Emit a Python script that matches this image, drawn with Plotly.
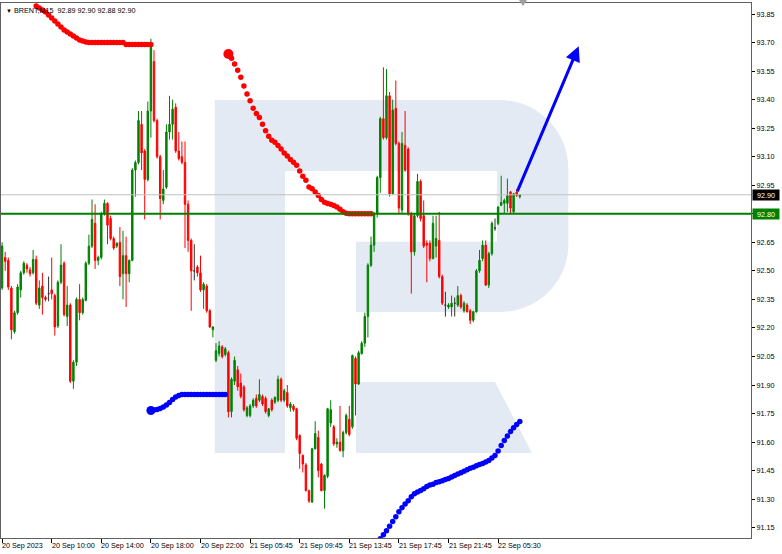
import plotly.graph_objects as go
import numpy as np

# ---------------- data ----------------
symbol = "BRENT,M15"
tick_idx = [0, 16, 32, 48, 64, 80, 96, 112, 128, 144, 160]
tick_labels = ["20 Sep 2023", "20 Sep 10:00", "20 Sep 14:00", "20 Sep 18:00", "20 Sep 22:00",
               "21 Sep 05:45", "21 Sep 09:45", "21 Sep 13:45", "21 Sep 17:45", "21 Sep 21:45",
               "22 Sep 05:30"]

opens = [92.41, 92.57, 92.555, 92.41, 92.18, 92.28, 92.40, 92.49, 92.53, 92.505,
         92.49, 92.56, 92.32, 92.42, 92.36, 92.38, 92.40, 92.37, 92.21, 92.44,
         92.54, 92.26, 92.32, 91.92, 92.02, 92.35, 92.28, 92.345, 92.54, 92.63,
         92.75, 92.555, 92.57, 92.80, 92.855, 92.775, 92.67, 92.63, 92.65, 92.485,
         92.58, 92.485, 92.555, 93.03, 93.07, 93.27, 93.13, 92.98, 93.34, 93.60,
         93.29, 93.10, 92.87, 92.94, 93.23, 93.27, 93.36, 93.13, 93.10, 93.07,
         92.85, 92.66, 92.50, 92.52, 92.49, 92.40, 92.42, 92.29, 92.19, 92.03,
         92.065, 92.10, 92.06, 92.07, 91.76, 91.92, 91.98, 91.91, 91.89, 91.74,
         91.74, 91.79, 91.83, 91.82, 91.84, 91.83, 91.74, 91.82, 91.81, 91.82,
         91.93, 91.82, 91.86, 91.78, 91.79, 91.775, 91.635, 91.53, 91.48, 91.345,
         91.285, 91.565, 91.625, 91.485, 91.345, 91.42, 91.70, 91.68, 91.59, 91.60,
         91.555, 91.65, 91.72, 91.68, 92.04, 91.905, 92.065, 92.12, 92.26, 92.53,
         92.635, 92.80, 92.99, 93.30, 93.20, 93.42, 92.905, 93.354, 93.17, 92.82,
         93.16, 93.14, 92.80, 92.60, 92.79, 92.97, 92.79, 92.645, 92.645, 92.565,
         92.63, 92.66, 92.47, 92.32, 92.31, 92.31, 92.33, 92.32, 92.37, 92.29,
         92.32, 92.29, 92.24, 92.285, 92.50, 92.565, 92.635, 92.425, 92.59, 92.725,
         92.75, 92.845, 92.855, 92.855, 92.915, 92.81, 92.915, 92.89]
highs = [92.65, 92.60, 92.57, 92.42, 92.29, 92.43, 92.50, 92.55, 92.54, 92.52,
         92.61, 92.58, 92.45, 92.49, 92.37, 92.47, 92.57, 92.38, 92.45, 92.64,
         92.55, 92.42, 92.33, 92.03, 92.36, 92.43, 92.36, 92.55, 92.69, 92.875,
         92.85, 92.58, 92.81, 92.875, 92.86, 92.79, 92.68, 92.65, 92.73, 92.71,
         92.68, 92.56, 93.04, 93.08, 93.34, 93.34, 93.14, 93.39, 93.72, 93.66,
         93.30, 93.11, 93.03, 93.27, 93.42, 93.40, 93.38, 93.23, 93.18, 93.18,
         92.87, 92.67, 92.64, 92.53, 92.58, 92.44, 92.43, 92.30, 92.21, 92.12,
         92.13, 92.11, 92.10, 92.08, 91.94, 92.05, 92.00, 91.96, 91.90, 91.79,
         91.80, 91.83, 91.85, 91.93, 91.85, 91.84, 91.78, 91.83, 91.84, 91.95,
         91.94, 91.88, 91.90, 91.81, 91.80, 91.78, 91.64, 91.535, 91.49, 91.35,
         91.57, 91.71, 91.66, 91.49, 91.43, 91.78, 91.82, 91.69, 91.62, 91.79,
         91.66, 91.75, 91.79, 92.06, 92.05, 92.08, 92.13, 92.28, 92.54, 92.68,
         92.81, 93.00, 93.31, 93.57, 93.56, 93.44, 93.40, 93.50, 93.18, 93.23,
         93.34, 93.15, 92.81, 92.80, 93.01, 92.98, 92.87, 92.66, 92.66, 92.79,
         92.79, 92.81, 92.48, 92.39, 92.33, 92.37, 92.36, 92.42, 92.38, 92.34,
         92.33, 92.30, 92.29, 92.51, 92.61, 92.66, 92.66, 92.60, 92.76, 92.775,
         92.84, 93.00, 92.88, 92.985, 92.92, 92.91, 92.93, 92.90]
lows = [92.40, 92.50, 92.40, 92.14, 92.17, 92.27, 92.36, 92.48, 92.49, 92.47,
        92.48, 92.32, 92.30, 92.27, 92.34, 92.34, 92.35, 92.16, 92.20, 92.43,
        92.26, 92.21, 91.91, 91.88, 92.00, 92.24, 92.27, 92.34, 92.53, 92.62,
        92.51, 92.53, 92.56, 92.79, 92.64, 92.66, 92.61, 92.62, 92.42, 92.35,
        92.31, 92.44, 92.55, 92.89, 93.06, 93.03, 92.77, 92.97, 93.20, 93.28,
        93.09, 92.77, 92.85, 92.93, 93.19, 93.19, 93.12, 93.08, 93.06, 92.62,
        92.60, 92.29, 92.45, 92.47, 92.39, 92.30, 92.28, 92.20, 92.15, 92.02,
        92.05, 92.04, 92.05, 91.73, 91.73, 91.90, 91.87, 91.83, 91.76, 91.73,
        91.73, 91.78, 91.78, 91.81, 91.79, 91.75, 91.73, 91.76, 91.80, 91.81,
        91.81, 91.81, 91.78, 91.76, 91.76, 91.61, 91.46, 91.44, 91.34, 91.28,
        91.28, 91.56, 91.415, 91.34, 91.25, 91.41, 91.68, 91.58, 91.57, 91.55,
        91.52, 91.64, 91.63, 91.67, 91.74, 91.90, 92.06, 92.10, 92.15, 92.52,
        92.60, 92.78, 92.91, 93.19, 93.19, 92.89, 92.90, 93.16, 92.80, 92.80,
        93.02, 92.79, 92.38, 92.58, 92.78, 92.76, 92.62, 92.44, 92.55, 92.56,
        92.57, 92.46, 92.32, 92.26, 92.30, 92.26, 92.26, 92.31, 92.30, 92.28,
        92.28, 92.22, 92.23, 92.28, 92.49, 92.55, 92.42, 92.41, 92.58, 92.71,
        92.74, 92.84, 92.80, 92.81, 92.80, 92.80, 92.89, 92.88]
closes = [92.63, 92.55, 92.415, 92.19, 92.28, 92.415, 92.49, 92.54, 92.51, 92.485,
          92.56, 92.33, 92.41, 92.36, 92.35, 92.38, 92.38, 92.205, 92.44, 92.53,
          92.27, 92.32, 91.92, 92.02, 92.35, 92.28, 92.35, 92.54, 92.63, 92.77,
          92.555, 92.57, 92.80, 92.855, 92.74, 92.67, 92.62, 92.645, 92.47, 92.58,
          92.485, 92.555, 93.03, 93.07, 93.29, 93.12, 92.98, 93.34, 93.69, 93.29,
          93.10, 92.88, 92.93, 93.23, 93.27, 93.35, 93.13, 93.09, 93.07, 92.85,
          92.66, 92.50, 92.50, 92.49, 92.40, 92.43, 92.29, 92.205, 92.205, 92.08,
          92.105, 92.05, 92.09, 91.76, 91.93, 92.03, 91.89, 91.84, 91.77, 91.78,
          91.79, 91.82, 91.79, 91.85, 91.80, 91.76, 91.775, 91.77, 91.835, 91.93,
          91.82, 91.87, 91.79, 91.80, 91.77, 91.62, 91.54, 91.485, 91.345, 91.29,
          91.565, 91.645, 91.45, 91.345, 91.425, 91.775, 91.77, 91.59, 91.60, 91.555,
          91.65, 91.74, 91.64, 92.055, 91.905, 92.07, 92.12, 92.26, 92.53, 92.635,
          92.80, 92.99, 93.30, 93.20, 93.42, 92.905, 93.345, 93.17, 92.83, 93.17,
          93.03, 92.80, 92.60, 92.79, 92.97, 92.775, 92.63, 92.635, 92.565, 92.75,
          92.67, 92.47, 92.33, 92.32, 92.32, 92.33, 92.33, 92.37, 92.31, 92.33,
          92.285, 92.24, 92.285, 92.50, 92.555, 92.635, 92.425, 92.59, 92.75, 92.725,
          92.835, 92.86, 92.87, 92.895, 92.83, 92.905, 92.895, 92.90]

price_ticks = [91.15, 91.30, 91.45, 91.60, 91.75, 91.90, 92.05, 92.20, 92.35,
               92.50, 92.65, 92.80, 92.95, 93.10, 93.25, 93.40, 93.55, 93.70, 93.85]
bid_price = 92.90
level_price = 92.80

red1_start = 11
red1 = [93.892, 93.882, 93.871, 93.861, 93.845, 93.829, 93.813, 93.797, 93.782, 93.766,
        93.755, 93.745, 93.734, 93.724, 93.713, 93.708, 93.703,
        93.70, 93.70, 93.70, 93.70, 93.70, 93.70, 93.70, 93.70, 93.70, 93.70, 93.70, 93.70,
        93.69, 93.69, 93.69, 93.69, 93.69, 93.69, 93.69, 93.69, 93.69]
red2_start = 73
red2 = [93.64, 93.618, 93.587, 93.555, 93.517, 93.471, 93.429, 93.394, 93.355, 93.327,
        93.306, 93.271, 93.236, 93.208, 93.187, 93.176, 93.159, 93.141, 93.120, 93.103,
        93.085, 93.071, 93.055, 93.025, 92.997, 92.976, 92.941, 92.931, 92.915, 92.896,
        92.875, 92.861, 92.854, 92.850, 92.843, 92.836, 92.824, 92.811, 92.803,
        92.80, 92.80, 92.80, 92.80, 92.80, 92.80, 92.80, 92.80]
blue1_start = 48
blue1 = [91.766, 91.768, 91.771, 91.776, 91.784, 91.795, 91.808, 91.824, 91.837, 91.845,
         91.85, 91.85, 91.85, 91.85, 91.85, 91.85, 91.85, 91.85, 91.85, 91.85,
         91.85, 91.85, 91.85, 91.85, 91.85]
blue2_start = 122
blue2 = [91.092, 91.113, 91.134, 91.158, 91.182, 91.208, 91.234, 91.255, 91.274, 91.292,
         91.313, 91.329, 91.337, 91.345, 91.355, 91.366, 91.374, 91.379, 91.387, 91.392,
         91.397, 91.403, 91.408, 91.416, 91.424, 91.432, 91.439, 91.447, 91.455, 91.463,
         91.468, 91.476, 91.482, 91.487, 91.495, 91.503, 91.516, 91.529, 91.553, 91.582,
         91.608, 91.632, 91.655, 91.676, 91.692, 91.708]
arrow_from = (166, 92.91)
arrow_to = (186, 93.68)

# ---------------- geometry of the page ----------------
W, H = 782, 554
ML, MR, MT, MB = 1, 31, 3, 16
PW, PH = W - ML - MR, H - MT - MB
BAR_PX = 3.1
FIRST_BAR_PX = 2.1
x_range = [(ML - FIRST_BAR_PX) / BAR_PX, (ML + PW - FIRST_BAR_PX) / BAR_PX]
PX_PER_UNIT = 190.26
y_range = [93.85 - (MT + PH - 14) / PX_PER_UNIT, 93.85 - (MT - 14) / PX_PER_UNIT]


def P(px, py):
    return f"{(px - ML) / PW:.5f},{(MT + PH - py) / PH:.5f}"


# ---------------- figure ----------------
o = np.array(opens); h = np.array(highs); l = np.array(lows); c = np.array(closes)
idx = np.arange(len(o))
doji = np.isclose(o, c)
norm = ~doji

fig = go.Figure()
fig.add_trace(go.Candlestick(
    x=idx[norm], open=o[norm], high=h[norm], low=l[norm], close=c[norm],
    increasing=dict(line=dict(color="#008000", width=1), fillcolor="#008000"),
    decreasing=dict(line=dict(color="#ff0000", width=1), fillcolor="#ff0000"),
    whiskerwidth=0, hoverinfo="skip"))
fig.add_trace(go.Candlestick(
    x=idx[doji], open=o[doji], high=h[doji], low=l[doji], close=c[doji],
    increasing=dict(line=dict(color="#303030", width=1), fillcolor="#303030"),
    decreasing=dict(line=dict(color="#303030", width=1), fillcolor="#303030"),
    whiskerwidth=0, hoverinfo="skip"))


def dots(start, vals, color, size):
    fig.add_trace(go.Scatter(x=list(range(start, start + len(vals))), y=vals, mode="markers",
                             marker=dict(color=color, size=size, line=dict(width=0)),
                             hoverinfo="skip", cliponaxis=True))


dots(red1_start, red1, "#ff0000", 5.5)
dots(red2_start, red2, "#ff0000", 5.5)
dots(blue1_start, blue1, "#0000ff", 5.5)
dots(blue2_start, blue2, "#0000ff", 5.5)
fig.add_trace(go.Scatter(x=[red2_start], y=[red2[0]], mode="markers",
                         marker=dict(color="#ff0000", size=10), hoverinfo="skip"))
fig.add_trace(go.Scatter(x=[blue1_start], y=[blue1[0]], mode="markers",
                         marker=dict(color="#0000ff", size=9), hoverinfo="skip"))

wm = "#e4eaf3"
shapes = [
    dict(type="path", xref="paper", yref="paper", layer="below", fillcolor=wm, line=dict(width=0),
         path=(f"M {P(214.7,100)} L {P(500,100)} C {P(537.5,100)} {P(568.3,130.5)} {P(568.3,168)} "
               f"L {P(568.3,245)} C {P(568.3,282)} {P(537.5,312)} {P(500,312)} L {P(356,312)} "
               f"L {P(356,241.7)} L {P(497,241.7)} L {P(497,171)} L {P(285,171)} L {P(285,453)} "
               f"L {P(214.7,453)} Z")),
    dict(type="path", xref="paper", yref="paper", layer="below", fillcolor=wm, line=dict(width=0),
         path=f"M {P(356,382)} L {P(495,382)} L {P(532,453)} L {P(356,453)} Z"),
    dict(type="line", xref="paper", yref="y", x0=0, x1=1, y0=bid_price, y1=bid_price,
         line=dict(color="#c0c0c0", width=1)),
    dict(type="line", xref="paper", yref="y", x0=0, x1=1, y0=level_price, y1=level_price,
         line=dict(color="#008000", width=2)),
    dict(type="path", xref="paper", yref="paper", fillcolor="#a0a0a0", line=dict(width=0),
         path=f"M {P(519,0)} L {P(527,0)} L {P(523,6)} Z"),
]

FONT = "Liberation Sans"
FS = 7.2
ann = []
for k, t in zip(tick_idx, tick_labels):
    ann.append(dict(x=k, xref="x", y=0, yref="paper", xanchor="left", yanchor="top",
                    yshift=-1, xshift=-2, text=t, showarrow=False,
                    font=dict(family=FONT, size=FS, color="#000000")))
ann.append(dict(x=1, xref="paper", y=bid_price, yref="y", xanchor="left", yanchor="middle",
                xshift=1, text=f"{bid_price:.2f}", showarrow=False, bgcolor="#000000",
                width=26, height=10, borderpad=0,
                font=dict(family=FONT, size=FS, color="#ffffff")))
ann.append(dict(x=1, xref="paper", y=level_price, yref="y", xanchor="left", yanchor="middle",
                xshift=1, text=f"{level_price:.2f}", showarrow=False, bgcolor="#008000",
                width=26, height=10, borderpad=0,
                font=dict(family=FONT, size=FS, color="#ffffff")))
ann.append(dict(x=0, xref="paper", y=1, yref="paper", xanchor="left", yanchor="top",
                xshift=3, yshift=-1, showarrow=False, align="left",
                text=(f"<span style='font-size:6px'>▼</span> {symbol}  "
                      f"{opens[-1]:.2f} {highs[-1]:.2f} {lows[-1]:.2f} {closes[-1]:.2f}"),
                font=dict(family=FONT, size=FS, color="#000000")))
ann.append(dict(x=arrow_to[0], y=arrow_to[1], xref="x", yref="y",
                ax=arrow_from[0], ay=arrow_from[1], axref="x", ayref="y",
                showarrow=True, text="", arrowhead=2, arrowsize=1, arrowwidth=3,
                arrowcolor="#0000ff"))

fig.update_layout(
    width=W, height=H, margin=dict(l=ML, r=MR, t=MT, b=MB),
    paper_bgcolor="#ffffff", plot_bgcolor="#ffffff", showlegend=False,
    boxgap=0.35, hovermode=False,
    shapes=shapes, annotations=ann,
    xaxis=dict(range=x_range, showgrid=False, zeroline=False, showline=True, mirror=True,
               linecolor="#606060", linewidth=1, ticks="outside", ticklen=4, tickcolor="#000000",
               tickvals=tick_idx, showticklabels=False, rangeslider=dict(visible=False),
               fixedrange=True),
    yaxis=dict(range=y_range, side="right", showgrid=False, zeroline=False, showline=True,
               mirror=True, linecolor="#606060", linewidth=1, ticks="outside", ticklen=3,
               tickcolor="#000000", tickvals=price_ticks,
               ticktext=[f"{v:.2f}" for v in price_ticks],
               tickfont=dict(family=FONT, size=FS, color="#000000"), fixedrange=True),
)

fig.write_html("out.html", config={"displayModeBar": False},
               post_script="document.body.style.margin='0';document.body.style.overflow='hidden';")
